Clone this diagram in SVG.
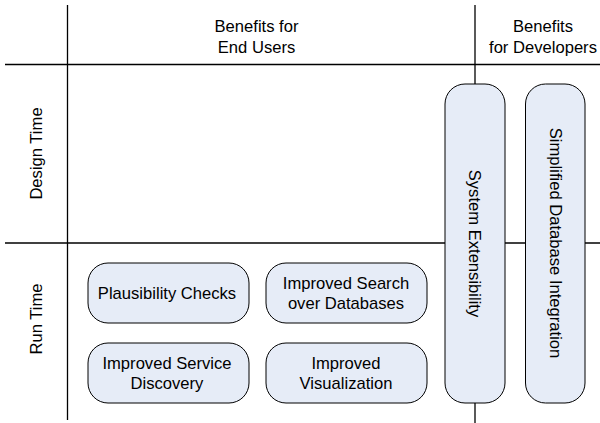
<svg xmlns="http://www.w3.org/2000/svg" width="600" height="423" viewBox="0 0 600 423">
<style>
.ln{stroke:#000;stroke-width:1.3;fill:none}
.box{fill:#e6ecf7;stroke:#000;stroke-width:1}
.t{font-family:"Liberation Sans",Arial,sans-serif;font-size:16.6px;fill:#000;text-anchor:middle}
</style>
<rect width="600" height="423" fill="#fff"/>
<g id="connectors">
<line class="ln" x1="67.5" y1="5" x2="67.5" y2="420"/>
<line class="ln" x1="475" y1="5" x2="475" y2="85"/>
<line class="ln" x1="475" y1="403" x2="475" y2="423"/>
<line class="ln" x1="5" y1="64.5" x2="600" y2="64.5"/>
<line class="ln" x1="5" y1="243" x2="600" y2="243"/>
</g>
<g id="headers">
<text class="t" x="256.5" y="31.5">Benefits for</text>
<text class="t" x="256.5" y="52.5">End Users</text>
<text class="t" x="543" y="32">Benefits</text>
<text class="t" x="543" y="52.5">for Developers</text>
<text class="t" transform="translate(41.5,153.5) rotate(-90)">Design Time</text>
<text class="t" transform="translate(41.5,319) rotate(-90)">Run Time</text>
</g>
<g id="system-extensibility">
<rect class="box" x="445" y="84" width="60" height="319" rx="20"/>
<text class="t" transform="translate(469,243.5) rotate(90)">System Extensibility</text>
</g>
<g id="simplified-database-integration">
<rect class="box" x="525.5" y="84" width="59.5" height="319" rx="20"/>
<text class="t" transform="translate(550,243) rotate(90)">Simplified Database Integration</text>
</g>
<g id="plausibility-checks">
<rect class="box" x="88" y="263" width="161" height="60" rx="20"/>
<text class="t" x="167" y="298.5">Plausibility Checks</text>
</g>
<g id="improved-search">
<rect class="box" x="266" y="263" width="161" height="60" rx="20"/>
<text class="t" x="346" y="289">Improved Search</text>
<text class="t" x="346" y="309">over Databases</text>
</g>
<g id="improved-service-discovery">
<rect class="box" x="88" y="343" width="161" height="60" rx="20"/>
<text class="t" x="167" y="369">Improved Service</text>
<text class="t" x="167" y="389">Discovery</text>
</g>
<g id="improved-visualization">
<rect class="box" x="266" y="343" width="161" height="60" rx="20"/>
<text class="t" x="346" y="369">Improved</text>
<text class="t" x="346" y="389">Visualization</text>
</g>
</svg>
